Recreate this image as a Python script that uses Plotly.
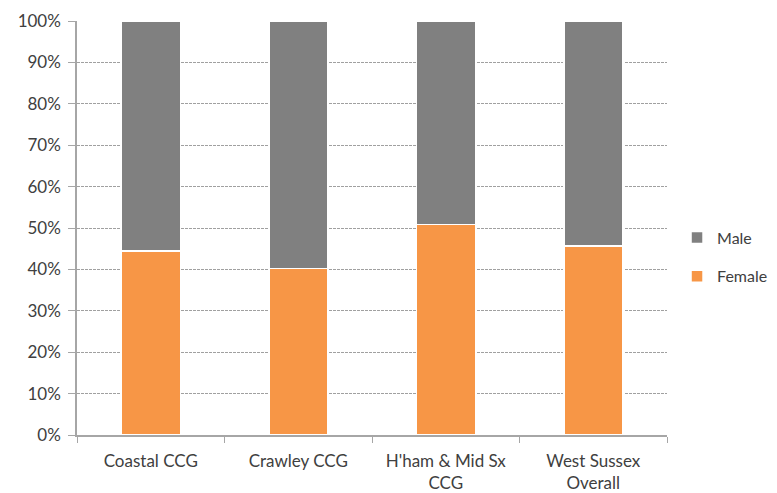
import plotly.graph_objects as go

categories = ["Coastal CCG", "Crawley CCG", "H'ham & Mid Sx<br>CCG", "West Sussex<br>Overall"]
female = [0.445, 0.402, 0.508, 0.456]
male = [1 - f for f in female]
y_ticks = [0, 0.1, 0.2, 0.3, 0.4, 0.5, 0.6, 0.7, 0.8, 0.9, 1.0]
y_tick_labels = ["0%", "10%", "20%", "30%", "40%", "50%", "60%", "70%", "80%", "90%", "100%"]

FONT = "Lato, 'Open Sans', sans-serif"

fig = go.Figure()
fig.add_trace(go.Bar(x=categories, y=female, name="Female", legendgroup="f", legendrank=2,
                     marker=dict(color="#F79646", line=dict(color="white", width=1.5))))
fig.add_trace(go.Bar(x=categories, y=male, name="Male", legendgroup="m", legendrank=1,
                     marker=dict(color="#808080", line=dict(color="white", width=1.5))))

fig.update_layout(
    barmode="stack",
    bargap=0.6,
    width=769, height=485,
    margin=dict(l=69, r=110, t=13, b=58, autoexpand=False),
    plot_bgcolor="white", paper_bgcolor="white",
    font=dict(family=FONT, size=17, color="#404040"),
    legend=dict(x=1.017, y=0.43, yanchor="middle", xanchor="left",
                traceorder="grouped", tracegroupgap=15,
                font=dict(size=16, color="#404040"), itemwidth=30),
    showlegend=True,
)
fig.update_yaxes(range=[0, 1], tickvals=y_ticks, ticktext=y_tick_labels,
                 showgrid=True, gridcolor="#A0A0A0", griddash="3px,1px", gridwidth=1,
                 showline=True, linecolor="#A6A6A6", linewidth=1.5,
                 ticks="outside", ticklen=7, tickcolor="#A6A6A6",
                 ticklabelstandoff=4, zeroline=False)
fig.update_xaxes(showline=True, linecolor="#A6A6A6", linewidth=1.5,
                 ticks="outside", tickson="boundaries", ticklen=6, tickcolor="#A6A6A6",
                 ticklabelstandoff=10, showgrid=False)

fig.write_html("out.html")
